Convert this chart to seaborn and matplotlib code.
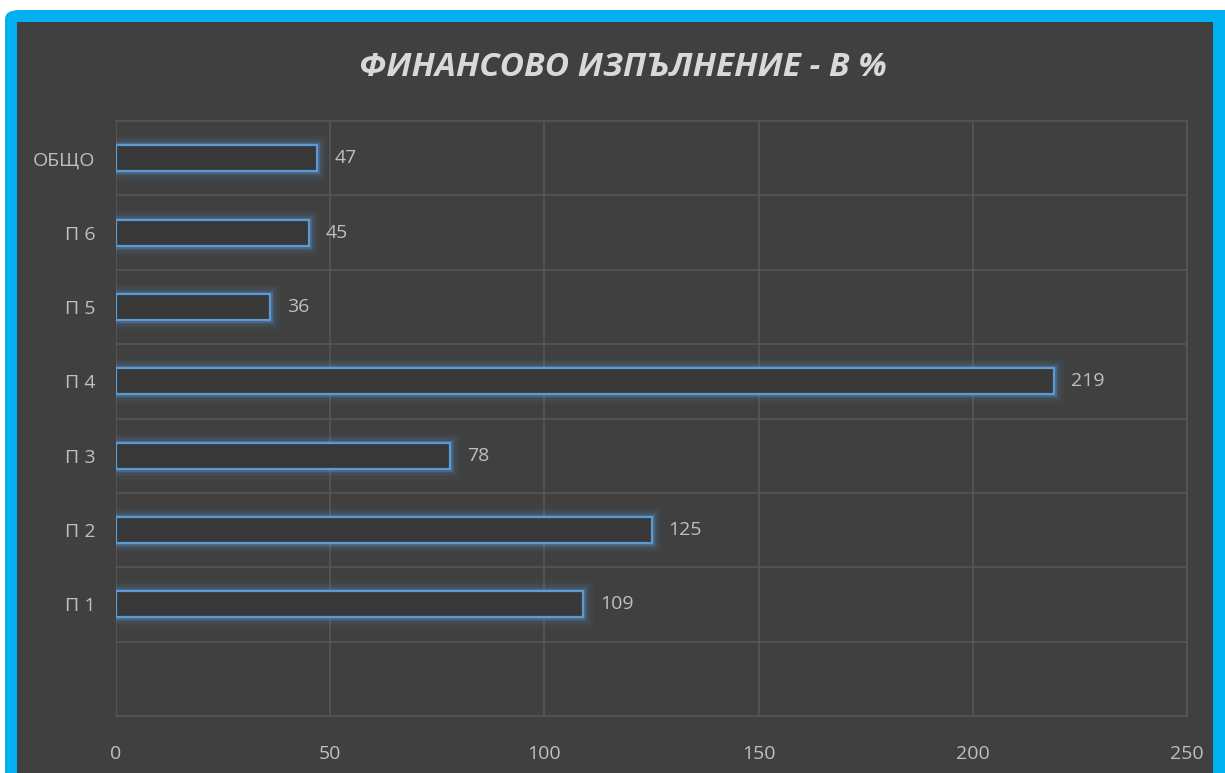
import matplotlib
matplotlib.use("Agg")
import matplotlib.pyplot as plt
import matplotlib.patheffects as pe
from matplotlib.patches import FancyBboxPatch, Rectangle
import seaborn as sns
import pandas as pd

categories = ["ОБЩО", "П 6", "П 5", "П 4", "П 3", "П 2", "П 1"]
values = [47, 45, 36, 219, 78, 125, 109]
x_ticks = [0, 50, 100, 150, 200, 250]

BG = "#404040"
BORDER = "#00B0F0"
BAR_EDGE = "#5B9BD5"
TEXT = "#BFBFBF"
GRID = "#585858"

sns.set_theme(style="dark")
plt.rcParams["font.family"] = ["Open Sans", "DejaVu Sans"]

W, H = 1225, 773
fig = plt.figure(figsize=(12.25, 7.73), dpi=100, facecolor="white")

# outer blue frame and dark chart area
fig.patches.append(FancyBboxPatch((5 / W, -0.05), (W - 5) / W + 0.05, (H - 10) / H + 0.05,
                                  boxstyle="round,pad=0,rounding_size=0.012",
                                  transform=fig.transFigure, facecolor=BORDER,
                                  edgecolor="none", zorder=-2))
fig.patches.append(Rectangle((17 / W, -0.05), (1213 - 17) / W, (H - 22) / H + 0.05,
                             transform=fig.transFigure, facecolor=BG,
                             edgecolor="none", zorder=-1))

ax = fig.add_axes([116 / W, 1 - 716 / H, (1187 - 116) / W, (716 - 121) / H])
ax.set_facecolor(BG)

df = pd.DataFrame({"cat": categories, "val": values})
sns.barplot(data=df, x="val", y="cat", order=categories, orient="h",
            width=0.35, color="#383838", edgecolor=BAR_EDGE, linewidth=1.6,
            ax=ax, zorder=3)

# soft blue glow around each bar outline
glow = [pe.Stroke(linewidth=14, foreground=BAR_EDGE, alpha=0.05),
        pe.Stroke(linewidth=10, foreground=BAR_EDGE, alpha=0.08),
        pe.Stroke(linewidth=6, foreground=BAR_EDGE, alpha=0.14),
        pe.Stroke(linewidth=3.5, foreground=BAR_EDGE, alpha=0.25),
        pe.Normal()]
for bar in ax.patches:
    bar.set_path_effects(glow)

for i, v in enumerate(values):
    ax.text(v + 4, i, str(v), va="center", ha="left", color=TEXT, fontsize=14, zorder=4)

ax.set_xlim(0, 250)
ax.set_ylim(len(categories) + 0.5, -0.5)
ax.set_xticks(x_ticks)
ax.set_yticks(range(len(categories)))
ax.set_yticklabels(categories)
ax.set_yticks([i + 0.5 for i in range(len(categories))], minor=True)

ax.grid(True, axis="x", which="major", color=GRID, linewidth=1.1, zorder=1)
ax.grid(True, axis="y", which="minor", color=GRID, linewidth=1.1, zorder=1)
ax.grid(False, axis="y", which="major")
ax.set_axisbelow(True)

for side in ["top", "right", "bottom"]:
    ax.spines[side].set_visible(True)
    ax.spines[side].set_color(GRID)
    ax.spines[side].set_linewidth(1.1)
ax.spines["left"].set_visible(False)

ax.tick_params(axis="x", which="both", length=0, pad=21, labelsize=14, labelcolor=TEXT)
ax.tick_params(axis="y", which="both", length=0, pad=15, labelsize=14, labelcolor=TEXT)
ax.set_xlabel("")
ax.set_ylabel("")

fig.text(623 / W, 1 - 67 / H, "ФИНАНСОВО ИЗПЪЛНЕНИЕ - В %", ha="center", va="center",
         fontsize=24, fontweight="bold", fontstyle="italic", color="#D9D9D9")

fig.savefig("out.png", dpi=100, facecolor="white")
